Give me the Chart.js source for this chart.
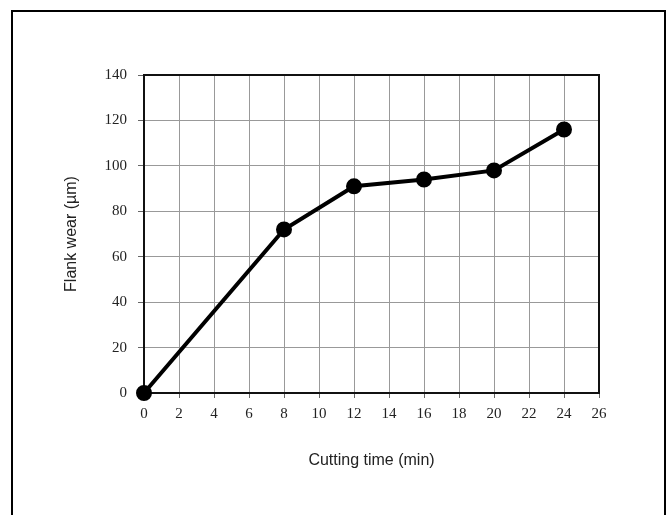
<!DOCTYPE html>
<html>
<head>
<meta charset="utf-8">
<style>
  html, body { margin: 0; padding: 0; background: #fff; }
  #wrap { width: 672px; height: 515px; position: relative; }
</style>
<script src="https://cdn.jsdelivr.net/npm/chart.js@4/dist/chart.umd.min.js"></script>
</head>
<body>
<div id="wrap"><canvas id="c" width="672" height="515"></canvas></div>
<script>
const cuttingTime = [0, 8, 12, 16, 20, 24];
const flankWear = [0, 72, 91, 94, 98, 116];
const xTitle = 'Cutting time (min)';
const yTitle = 'Flank wear (\u00b5m)';

const framePlugin = {
  id: 'frame',
  beforeDraw(chart) {
    const ctx = chart.ctx;
    ctx.save();
    ctx.fillStyle = '#fff';
    ctx.fillRect(0, 0, chart.width, chart.height);
    ctx.strokeStyle = '#000';
    ctx.lineWidth = 2;
    ctx.strokeRect(12, 11, 653, 520);
    ctx.restore();
  },
  beforeDatasetsDraw(chart) {
    const a = chart.chartArea;
    const ctx = chart.ctx;
    ctx.save();
    ctx.strokeStyle = '#111';
    ctx.lineWidth = 2;
    ctx.strokeRect(a.left, a.top, a.right - a.left, a.bottom - a.top);
    ctx.restore();
  }
};

new Chart(document.getElementById('c'), {
  type: 'line',
  data: {
    datasets: [{
      data: cuttingTime.map((t, i) => ({ x: t, y: flankWear[i] })),
      borderColor: '#000',
      backgroundColor: '#000',
      borderWidth: 4,
      pointRadius: 6,
      pointBackgroundColor: '#000',
      pointBorderColor: '#000',
      tension: 0,
      fill: false,
      clip: false
    }]
  },
  options: {
    responsive: false,
    animation: false,
    devicePixelRatio: 1,
    layout: { padding: { top: 75, right: 73, left: 0, bottom: 0 } },
    plugins: { legend: { display: false }, tooltip: { enabled: false } },
    scales: {
      x: {
        type: 'linear',
        min: 0, max: 26,
        afterFit(s) { s.height = 122; },
        ticks: {
          stepSize: 2,
          color: '#222',
          font: { family: 'Liberation Serif', size: 15 },
          padding: 7,
          maxRotation: 0
        },
        grid: { color: '#999', lineWidth: 1, tickLength: 5, tickColor: '#666' },
        border: { color: '#111', width: 2 },
        title: {
          display: true, text: xTitle, color: '#222',
          font: { family: 'Liberation Sans', size: 16 },
          padding: { top: 0, bottom: 45 }
        }
      },
      y: {
        min: 0, max: 140,
        afterFit(s) { s.width = 144; },
        ticks: {
          stepSize: 20,
          color: '#222',
          font: { family: 'Liberation Serif', size: 15 },
          padding: 11
        },
        grid: { color: '#999', lineWidth: 1, tickLength: 6, tickColor: '#666' },
        border: { color: '#111', width: 2 },
        title: {
          display: true, text: yTitle, color: '#222',
          font: { family: 'Liberation Sans', size: 16 },
          padding: { top: 62, bottom: 0 }
        }
      }
    }
  },
  plugins: [framePlugin]
});
</script>
</body>
</html>
